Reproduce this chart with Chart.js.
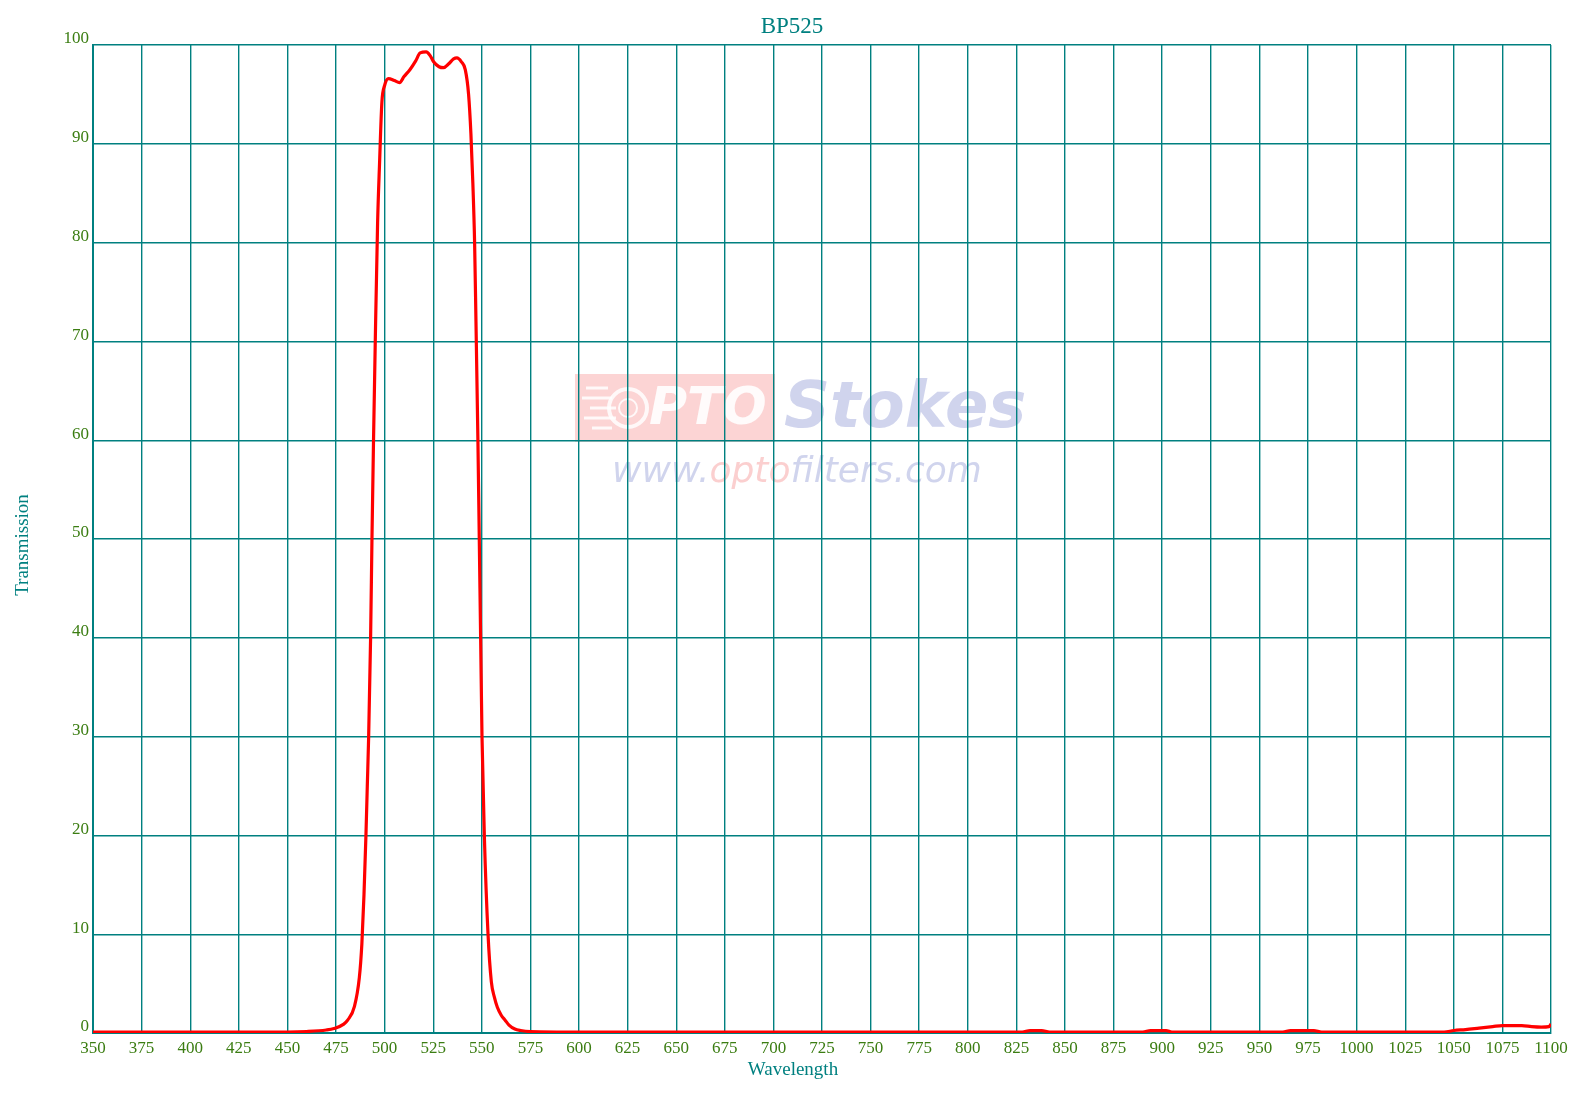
<!DOCTYPE html>
<html>
<head>
<meta charset="utf-8">
<title>BP525</title>
<script src="https://cdn.jsdelivr.net/npm/chart.js@4.4.1/dist/chart.umd.min.js"></script>
<style>
  body { margin: 0; background: #fff; }
  #wrap { width: 1577px; height: 1095px; }
</style>
</head>
<body>
<div id="wrap"><canvas id="bp525" width="1577" height="1095"></canvas></div>
<script>
// wavelength (nm) and transmission (%)
const wavelengths = [
  350, 400, 450, 460, 470, 474, 479, 481, 484.5, 487, 488.3, 489.4, 490.4, 491.1, 491.8,
  492.8, 493.5, 494.3, 495.2, 496.4, 497.4, 498.6, 500, 502, 505, 507.7, 510, 513, 516,
  518.3, 521.4, 523.5, 525.2, 528, 530.3, 533, 535.5, 537.2, 539.5, 541.5, 543.2, 544.4,
  545.4, 546.3, 547, 548, 548.7, 549.4, 550.1, 551.3, 553.2, 554.9, 556.5, 558, 560, 562,
  564, 567, 570, 575, 600, 700, 800, 828, 832, 838, 842, 890, 894, 902, 905, 962, 966,
  978, 982, 1045, 1050, 1056, 1063, 1070, 1075, 1085, 1090, 1095, 1099, 1100
];
const transmission = [
  0.1, 0.1, 0.1, 0.15, 0.3, 0.45, 0.9, 1.3, 2.7, 5.6, 9, 14, 20, 25, 30,
  40, 50, 60, 70, 82, 88, 94.2, 95.9, 96.6, 96.4, 96.2, 96.8, 97.5, 98.4,
  99.2, 99.3, 98.9, 98.3, 97.8, 97.7, 98.1, 98.6, 98.7, 98.3, 97.5, 95, 91,
  86, 80, 72, 60, 50, 40, 30, 20, 10, 5.2, 3.6, 2.6, 1.8, 1.3,
  0.8, 0.4, 0.25, 0.15, 0.1, 0.1, 0.1, 0.1, 0.25, 0.25, 0.1, 0.1, 0.25, 0.25, 0.1, 0.1, 0.25,
  0.25, 0.1, 0.1, 0.25, 0.35, 0.5, 0.65, 0.75, 0.75, 0.65, 0.6, 0.65, 0.9
];
const xTicks = { min: 350, max: 1100, step: 25 };
const yTicks = { min: 0, max: 100, step: 10 };

const teal = '#008080';
const tickGreen = '#3b7d12';
const serif = "'Liberation Serif', 'Times New Roman', serif";

// faint logo behind the grid; title and axis titles centred on the canvas
const decorations = {
  id: 'decorations',
  beforeDraw(chart) {
    const c = chart.ctx;
    c.save();
    c.fillStyle = 'rgba(248, 160, 160, 0.45)';
    c.fillRect(575, 374, 200, 68);
    // speed lines and lens icon
    c.strokeStyle = 'rgba(255, 255, 255, 0.85)';
    c.lineWidth = 3;
    [[586, 388, 22], [582, 398, 30], [590, 408, 26], [584, 418, 32], [592, 428, 20]].forEach(([x, y, w]) => {
      c.beginPath();
      c.moveTo(x, y);
      c.lineTo(x + w, y);
      c.stroke();
    });
    c.lineWidth = 4;
    c.beginPath();
    c.arc(628, 408, 19, 0, Math.PI * 2);
    c.stroke();
    c.lineWidth = 2;
    c.beginPath();
    c.arc(628, 408, 9, 0, Math.PI * 2);
    c.stroke();
    c.fillStyle = 'rgba(255, 255, 255, 0.9)';
    c.font = "italic bold 52px 'DejaVu Sans', sans-serif";
    c.textBaseline = 'middle';
    c.fillText('PTO', 649, 410);
    c.fillStyle = 'rgba(150, 160, 215, 0.45)';
    c.font = "italic bold 64px 'DejaVu Sans', sans-serif";
    c.fillText('Stokes', 784, 410);
    c.font = "italic 36px 'DejaVu Sans', sans-serif";
    c.fillText('www.', 612, 473);
    let x = 612 + c.measureText('www.').width;
    c.fillStyle = 'rgba(248, 160, 160, 0.5)';
    c.fillText('opto', x, 473);
    x += c.measureText('opto').width;
    c.fillStyle = 'rgba(150, 160, 215, 0.45)';
    c.fillText('filters.com', x, 473);
    c.restore();
  },
  afterDraw(chart) {
    const c = chart.ctx;
    c.save();
    c.fillStyle = teal;
    c.textAlign = 'center';
    c.textBaseline = 'middle';
    c.font = '23px ' + serif;
    c.fillText('BP525', 792, 27);
    c.font = '19px ' + serif;
    c.fillText('Wavelength', 793, 1070);
    c.translate(23, 545);
    c.rotate(-Math.PI / 2);
    c.fillText('Transmission', 0, 0);
    c.restore();
  }
};

const ctx = document.querySelector('#bp525').getContext('2d');

new Chart(ctx, {
  type: 'line',
  data: {
    datasets: [
      {
        label: 'BP525',
        data: wavelengths.map((w, i) => ({ x: w, y: transmission[i] })),
        borderColor: '#ff0000',
        borderWidth: 3.2,
        pointRadius: 0,
        fill: false,
        cubicInterpolationMode: 'monotone'
      }
    ]
  },
  options: {
    responsive: false,
    animation: false,
    layout: { padding: { left: 0, right: 26, top: 45, bottom: 0 } },
    scales: {
      x: {
        type: 'linear',
        min: xTicks.min,
        max: xTicks.max,
        afterFit: (scale) => { scale.height = 62; },
        ticks: {
          stepSize: xTicks.step,
          color: tickGreen,
          font: { family: serif, size: 17 },
          padding: 5,
          maxRotation: 0,
          autoSkip: false,
          callback: (v) => String(v)
        },
        grid: { color: teal, lineWidth: 1.4, drawTicks: false },
        border: { color: teal, width: 2 }
      },
      y: {
        min: yTicks.min,
        max: yTicks.max,
        afterFit: (scale) => { scale.width = 93; },
        ticks: {
          stepSize: yTicks.step,
          color: tickGreen,
          font: { family: serif, size: 17 },
          padding: 4,
          labelOffset: -6
        },
        grid: { color: teal, lineWidth: 1.4, drawTicks: false },
        border: { color: teal, width: 2 }
      }
    },
    plugins: {
      legend: { display: false },
      tooltip: { enabled: false },
      title: { display: false }
    }
  },
  plugins: [decorations]
});
</script>
</body>
</html>
